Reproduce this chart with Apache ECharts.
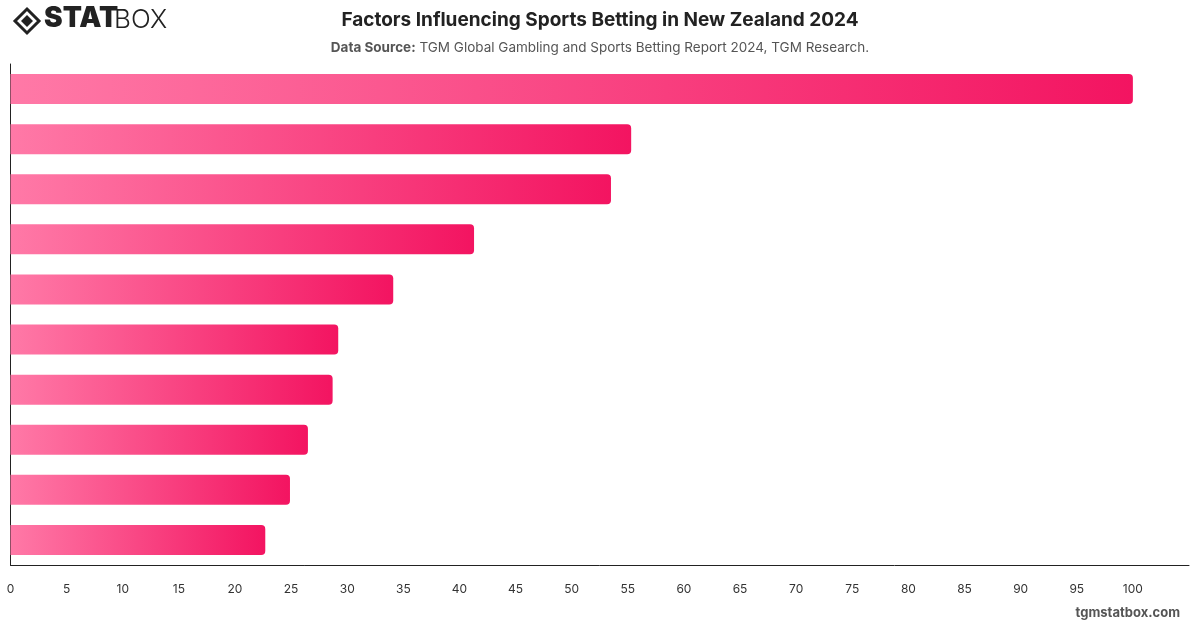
<!DOCTYPE html>
<html style="height: 100%">
<head>
<meta charset="utf-8" />
<title>Factors Influencing Sports Betting in New Zealand 2024</title>
<script type="text/javascript" src="https://cdn.jsdelivr.net/npm/echarts@6/dist/echarts.min.js"></script>
<style>
  html, body { margin: 0; height: 100%; background: #fff; }
  #container { width: 1200px; height: 628px; }
</style>
</head>
<body>
<div id="container"></div>
<script type="text/javascript">
// labels are not shown in the picture, one entry per bar (top to bottom)
var factors = ['Factor 1', 'Factor 2', 'Factor 3', 'Factor 4', 'Factor 5',
               'Factor 6', 'Factor 7', 'Factor 8', 'Factor 9', 'Factor 10'];
var scores = [100, 55.3, 53.5, 41.3, 34.1, 29.2, 28.7, 26.5, 24.9, 22.7];
var xMin = 0, xMax = 105, xStep = 5;

var chart = echarts.init(document.getElementById('container'));
var font = 'Inter, "Noto Sans", sans-serif';

var option = {
    animation: false,
    backgroundColor: '#fff',
    title: [{
        text: 'Factors Influencing Sports Betting in New Zealand 2024',
        left: 'center', top: 6,
        textStyle: { fontFamily: font, fontSize: 19, fontWeight: 'bold', color: '#222' }
    }, {
        text: '{b|Data Source:} TGM Global Gambling and Sports Betting Report 2024, TGM Research.',
        left: 'center', top: 36,
        textStyle: {
            fontFamily: font, fontSize: 13.5, fontWeight: 'normal', color: '#555',
            rich: { b: { fontFamily: font, fontSize: 13.5, fontWeight: 'bold', color: '#555' } }
        }
    }],
    grid: { left: 10.5, right: 11, top: 64, bottom: 63, containLabel: false },
    xAxis: {
        type: 'value', min: xMin, max: xMax, interval: xStep,
        axisLine: { show: true, lineStyle: { color: '#222', width: 1 } },
        axisTick: { show: false },
        splitLine: { show: false },
        axisLabel: {
            showMaxLabel: false, margin: 18,
            fontFamily: font, fontSize: 12, color: '#333'
        }
    },
    yAxis: {
        type: 'category', data: factors, inverse: true,
        axisLine: { show: true, lineStyle: { color: '#222', width: 1 } },
        axisTick: { show: false },
        axisLabel: { show: false }
    },
    series: [{
        type: 'bar',
        data: scores,
        barWidth: 30,
        itemStyle: {
            borderRadius: [0, 4, 4, 0],
            color: new echarts.graphic.LinearGradient(0, 0, 1, 0, [
                { offset: 0, color: '#ff79a7' },
                { offset: 1, color: '#f31461' }
            ])
        }
    }],
    graphic: [
        // logo icon
        { type: 'polygon', shape: { points: [[27, 9], [39, 21], [27, 33], [15, 21]] },
          style: { fill: 'none', stroke: '#222', lineWidth: 3 } },
        { type: 'polygon', shape: { points: [[27, 15], [33, 21], [27, 27], [21, 21]] },
          style: { fill: '#222' } },
        { type: 'text', left: 44, top: 5,
          style: { text: 'STAT', fontFamily: font, fontSize: 28, fontWeight: 900, fill: '#222' } },
        { type: 'text', left: 114, top: 7,
          style: { text: 'BOX', fontFamily: font, fontSize: 26, fontWeight: 300, fill: '#222' } },
        { type: 'text', right: 20, top: 607,
          style: { text: 'tgmstatbox.com', fontFamily: font, fontSize: 13, fontWeight: 'bold', fill: '#555' } }
    ]
};
chart.setOption(option);
</script>
</body>
</html>
